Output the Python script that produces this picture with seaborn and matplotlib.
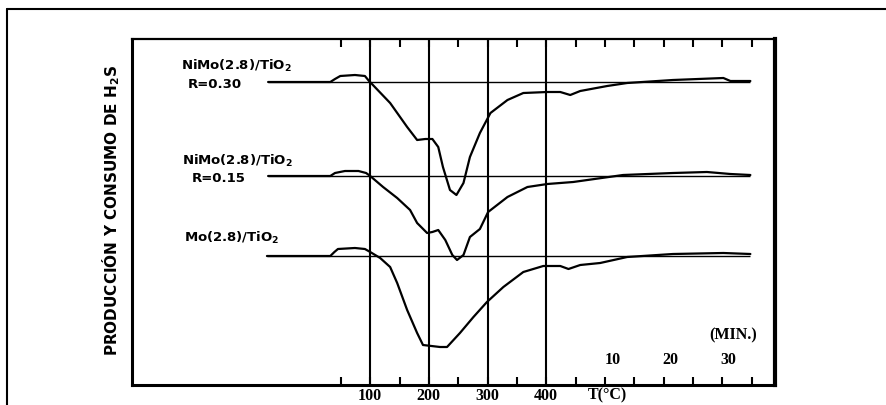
import matplotlib
matplotlib.use("Agg")
import matplotlib.pyplot as plt
import seaborn as sns
import pandas as pd
from matplotlib.lines import Line2D
from matplotlib.transforms import blended_transform_factory

# ---- data (x in °C-equivalent scale, signal deviation from each baseline) ----
T_030 = [-74, 32, 40, 49, 74, 91, 98, 103, 134, 163, 180, 194, 206, 216, 224, 236, 247, 259, 270, 287, 305,
         334, 361, 402, 424, 441, 458, 504, 538, 616, 702, 714, 748]
d_030 = [0, 0, 3, 6, 7, 6, 1, -2, -21, -45, -58, -57, -57, -65, -85, -108, -113, -101, -75, -51, -31,
         -18, -11, -10, -10, -13, -9, -4, -1, 2, 4, 1, 1]

T_015 = [-74, 32, 40, 57, 80, 93, 100, 122, 146, 168, 180, 197, 206, 216, 228, 240, 248, 259, 270, 287, 301,
         334, 368, 402, 446, 531, 616, 674, 714, 748]
d_015 = [0, 0, 3, 5, 5, 3, 0, -11, -22, -34, -47, -57, -56, -54, -64, -79, -84, -79, -61, -53, -36,
         -21, -11, -8, -6, 1, 3, 4, 2, 1]

T_mo = [-76, 32, 39, 45, 74, 91, 100, 117, 134, 146, 163, 180, 190, 219, 231, 253, 276, 299,
        327, 361, 395, 424, 438, 458, 492, 538, 616, 702, 748]
d_mo = [0, 0, 4, 7, 8, 7, 4, -2, -11, -27, -54, -77, -89, -91, -91, -77, -61, -46,
        -31, -16, -10, -10, -13, -9, -7, -1, 2, 3, 2]

baselines = [303, 209, 129]
series_T = [T_030, T_015, T_mo]
series_d = [d_030, d_015, d_mo]
series_names = ["NiMo(2.8)/TiO2 R=0.30", "NiMo(2.8)/TiO2 R=0.15", "Mo(2.8)/TiO2"]

label_lines = [r"NiMo(2.8)/TiO$_\mathbf{2}$", r"NiMo(2.8)/TiO$_\mathbf{2}$", r"Mo(2.8)/TiO$_\mathbf{2}$"]
label_R = ["R=0.30", "R=0.15", None]

temp_lines = [100, 200, 300, 400]
tick_pos = list(range(50, 751, 50))
tick_labels = ["100", "200", "300", "400"]
min_labels = ["10", "20", "30"]
min_pos = [514, 611, 710]

# ---- build table ----
rows = []
for name, T, d, b in zip(series_names, series_T, series_d, baselines):
    for t, v in zip(T, d):
        rows.append({"series": name, "T": t, "signal": b + v})
df = pd.DataFrame(rows)

sns.set_theme(style="white")
plt.rcParams["font.family"] = ["DejaVu Sans"]
plt.rcParams["text.color"] = "black"
plt.rcParams["axes.labelcolor"] = "black"
plt.rcParams["xtick.color"] = "black"
plt.rcParams["ytick.color"] = "black"

fig = plt.figure(figsize=(8.86, 4.05), dpi=100)
ax = fig.add_axes([132 / 886, 1 - 385 / 405, (775 - 132) / 886, (385 - 39) / 405])

for name, b, T in zip(series_names, baselines, series_T):
    ax.hlines(b, T[0], T[-1], color="black", lw=1.0, zorder=2)
    sns.lineplot(data=df[df["series"] == name], x="T", y="signal", color="black",
                 lw=1.6, sort=False, estimator=None, ax=ax, zorder=3)

for t in temp_lines:
    ax.axvline(t, color="black", lw=1.5, zorder=1)

ax.set_xlim(-306, 790)
ax.set_ylim(0, 346)
ax.set_xlabel("")
ax.set_ylabel("")
ax.set_yticks([])
ax.set_xticks(tick_pos)
ax.set_xticklabels([str(p) if str(p) in tick_labels else "" for p in tick_pos],
                   fontfamily="Liberation Serif", fontweight="bold", fontsize=11.5, color="black")
ax.tick_params(axis="x", which="both", direction="in", top=True, bottom=True,
               length=6, width=1.5, color="black", labelcolor="black", pad=2)

for side, w in zip(["left", "right", "top", "bottom"], [2.2, 3.0, 1.6, 2.2]):
    ax.spines[side].set_visible(True)
    ax.spines[side].set_color("black")
    ax.spines[side].set_linewidth(w)

# curve labels
lab_T = [-128, -127, -137]
lab_y = [319, 224, 147]
R_T = [-164, -159]
R_y = [301, 207]
for i in range(3):
    ax.text(lab_T[i], lab_y[i], label_lines[i], ha="center", va="center",
            fontsize=9.5, fontweight="bold", color="black")
    if label_R[i]:
        ax.text(R_T[i], R_y[i], label_R[i], ha="center", va="center",
                fontsize=9.5, fontweight="bold", color="black")

# time labels
for p, lab in zip(min_pos, min_labels):
    ax.text(p, 25, lab, ha="center", va="center", fontfamily="Liberation Serif",
            fontweight="bold", fontsize=11.5, color="black")
ax.text(719, 50, "(MIN.)", ha="center", va="center", fontfamily="Liberation Serif",
        fontweight="bold", fontsize=11.5, color="black")

trans = blended_transform_factory(ax.transData, ax.transAxes)
ax.text(504, -0.008, "T(°C)", transform=trans, ha="center", va="top",
        fontfamily="Liberation Serif", fontweight="bold", fontsize=11.5, color="black")

# y label
fig.text(111 / 886, 1 - 210 / 405, r"PRODUCCIÓN Y CONSUMO DE H$_\mathbf{2}$S", rotation=90,
         ha="center", va="center", fontsize=11, fontweight="bold", color="black")

# outer frame lines
fig.add_artist(Line2D([7 / 886, 1.0], [1 - 9 / 405, 1 - 9 / 405], color="black", lw=1.5,
                      transform=fig.transFigure))
fig.add_artist(Line2D([7 / 886, 7 / 886], [0, 1 - 9 / 405], color="black", lw=1.5,
                      transform=fig.transFigure))

fig.savefig("out.png", dpi=100)
